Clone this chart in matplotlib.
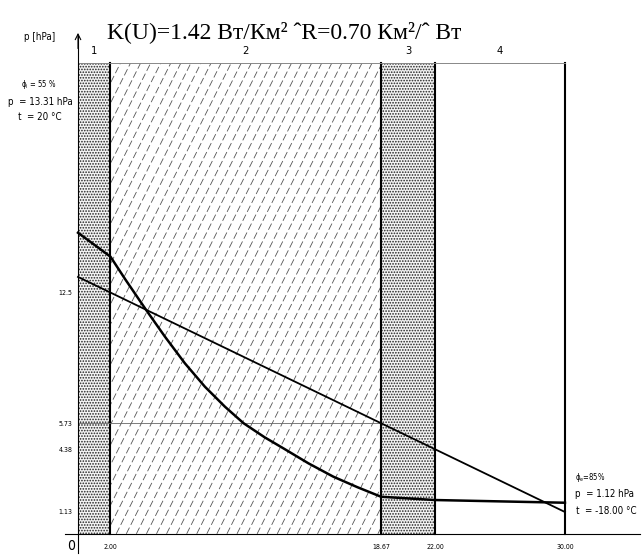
import matplotlib
matplotlib.use('Agg')
import matplotlib.pyplot as plt
import numpy as np

# толщины слоёв (границы по x) и подписи
layer_edges = [0, 2.00, 18.67, 22.00, 30.00]
layer_names = ['1', '2', '3', '4']
x_ticks = [2.00, 18.67, 22.00, 30.00]
x_tick_labels = ['2.00', '18.67', '22.00', '30.00']

# парциальное давление (прямая)
p_x = [0, 2.00, 18.67, 22.00, 30.00]
p_val = [13.31, 12.5, 5.73, 4.38, 1.13]
y_ticks = [1.13, 4.38, 5.73, 12.5]
y_tick_labels = ['1.13', '4.38', '5.73', '12.5']

# давление насыщения (кривая)
ps_x = [0, 2.00, 2.9, 4.13, 5.36, 6.59, 7.82, 9.06, 10.2, 11.5, 12.65, 14.2, 15.73, 17.2, 18.67, 22.00, 30.00]
ps_val = [15.6, 14.36, 13.2, 11.68, 10.21, 8.83, 7.62, 6.58, 5.73, 5.0, 4.43, 3.65, 2.96, 2.42, 1.92, 1.75, 1.61]

p_top = 24.4
font = dict(family='DejaVu Sans', fontstretch='condensed')

plt.rcParams['hatch.linewidth'] = 0.8
plt.rcParams['lines.scale_dashes'] = False

fig = plt.figure(figsize=(6.44, 5.56), dpi=100)
ax = fig.add_axes([0, 0, 1, 1])
ax.set_xlim(-4.806, 34.87)
ax.set_ylim(-1.15, 27.66)

# слои 1 и 3 - точечная штриховка
for i in [0, 2]:
    ax.fill_between([layer_edges[i], layer_edges[i + 1]], 0, p_top, facecolor='#f4f4f4',
                    edgecolor='#222222', hatch='......', linewidth=0)

# слой 2 - косая штриховка пунктиром
x0, x1 = layer_edges[1], layer_edges[2]
rect = plt.Rectangle((x0, 0), x1 - x0, p_top, facecolor='none', edgecolor='none')
ax.add_patch(rect)
k = 1.68
for s in np.arange(x0 - p_top / k, x1, 0.62):
    ln, = ax.plot([s, s + p_top / k], [0, p_top], color='#555555', lw=0.6,
                  dashes=(5, 2.2))
    ln.set_clip_path(rect)

for i in range(4):
    ax.text((layer_edges[i] + layer_edges[i + 1]) / 2, p_top + 0.35, layer_names[i],
            ha='center', va='bottom', fontsize=8, **font)

for x in layer_edges[1:]:
    ax.plot([x, x], [0, p_top], color='black', lw=1.5)
ax.plot([0, 30], [p_top, p_top], color='#888888', lw=0.7)

# линии
ax.plot([0, 18.67], [5.73, 5.73], color='#666666', lw=0.6)
ax.plot(p_x, p_val, color='black', lw=1.3)
ax.plot(ps_x, ps_val, color='black', lw=1.8)

# оси
for s in ['top', 'right']:
    ax.spines[s].set_visible(False)
ax.spines['left'].set_position(('data', 0))
ax.spines['bottom'].set_position(('data', 0))
ax.spines['left'].set_bounds(-1.0, 25.8)
ax.spines['bottom'].set_bounds(-0.8, 34.6)
ax.spines['left'].set_linewidth(0.8)
ax.spines['bottom'].set_linewidth(0.8)
ax.annotate('', xy=(0, 26.1), xytext=(0, 25.0),
            arrowprops=dict(arrowstyle='->', lw=0.8, color='black'))

ax.set_xticks(x_ticks)
ax.set_xticklabels(x_tick_labels)
ax.set_yticks(y_ticks)
ax.set_yticklabels(y_tick_labels)
ax.tick_params(length=0, labelsize=5)
ax.tick_params(axis='x', pad=7)
ax.tick_params(axis='y', pad=4)
for lab in ax.get_xticklabels() + ax.get_yticklabels():
    lab.set_fontstretch('condensed')

ax.text(-0.45, -0.65, '0', ha='center', va='center', fontsize=10, **font)
ax.text(-2.35, 25.75, 'p [hPa]', ha='center', va='center', fontsize=7, **font)

ax.text(12.7, 26.0, 'K(U)=1.42 Вт/Км² ˆR=0.70 Км²/ˆ Вт', ha='center', va='center',
        fontsize=17, family='Liberation Serif')

# граничные условия
ax.text(-2.4, 23.3, 'ϕ$_\\mathregular{i}$ = 55 %', ha='center', va='center', fontsize=5.5, **font)
ax.text(-4.3, 22.4, 'p  = 13.31 hPa', ha='left', va='center', fontsize=7, **font)
ax.text(-3.7, 21.6, 't  = 20 °C', ha='left', va='center', fontsize=7, **font)

ax.text(30.6, 2.9, 'ϕ$_\\mathregular{e}$=85%', ha='left', va='center', fontsize=5.5, **font)
ax.text(30.6, 2.05, 'p  = 1.12 hPa', ha='left', va='center', fontsize=7, **font)
ax.text(30.65, 1.2, 't  = -18.00 °C', ha='left', va='center', fontsize=7, **font)

fig.savefig('out.png', dpi=100)
